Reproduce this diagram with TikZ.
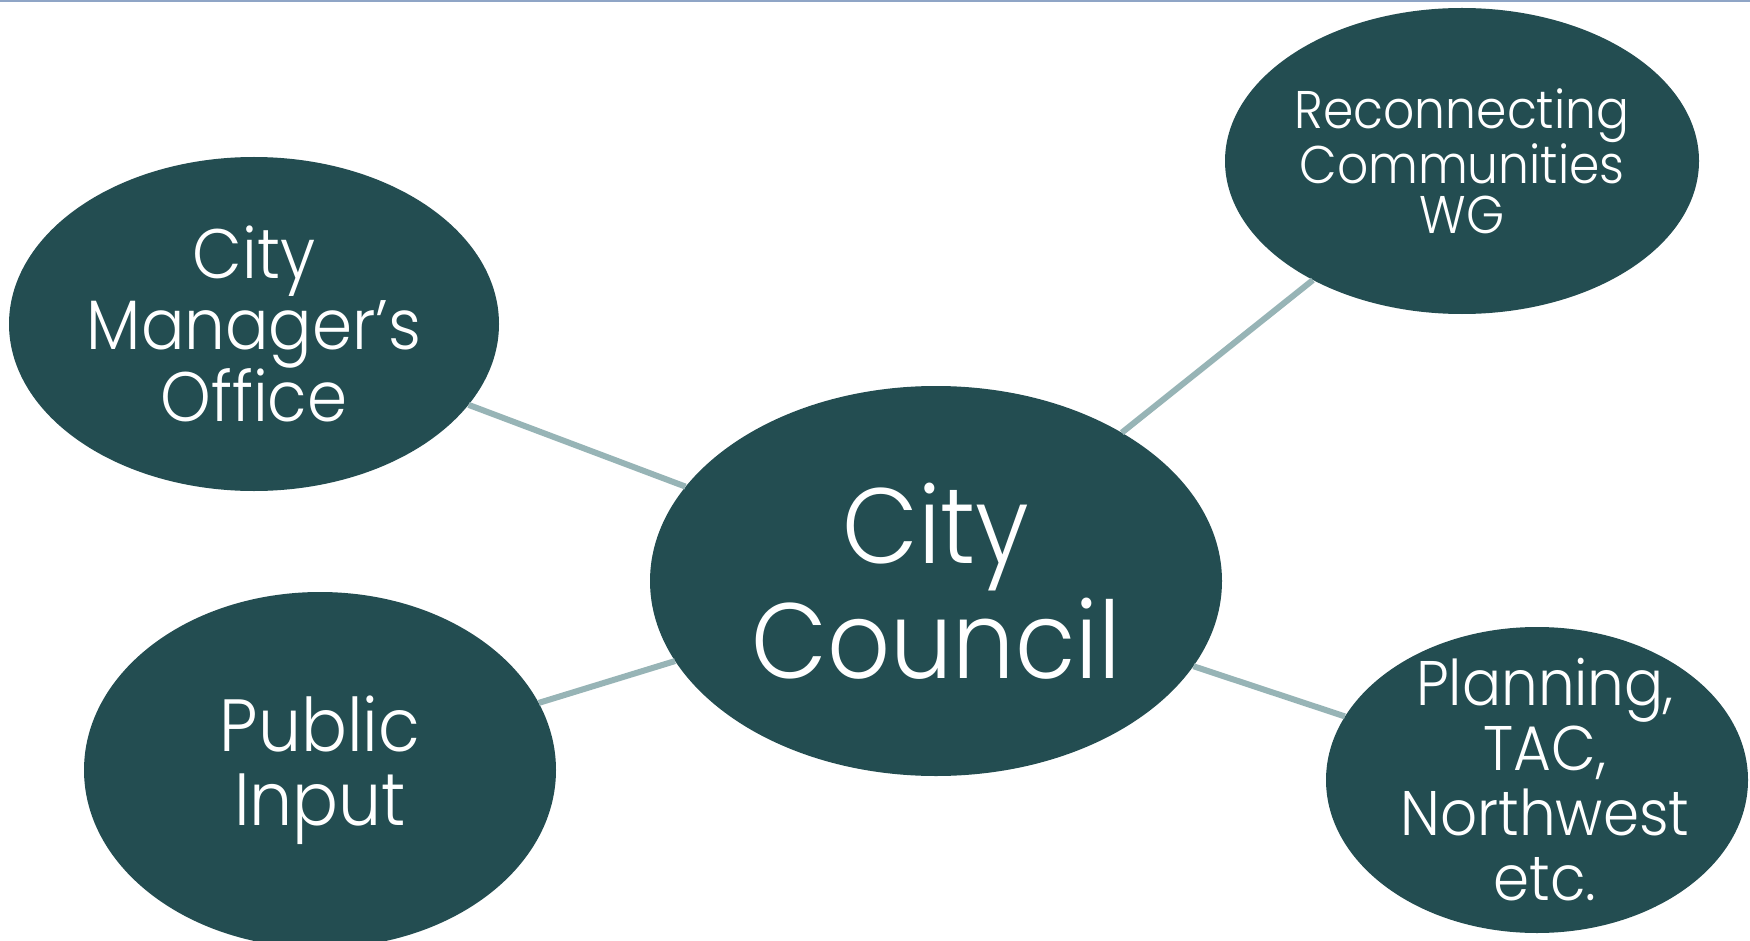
\documentclass[tikz,border=0pt]{standalone}
\usepackage{fontspec}
\setmainfont{Poppins Light}[FakeStretch=0.92]
\usetikzlibrary{shapes.geometric}
\definecolor{bubble}{HTML}{234D51}
\definecolor{link}{HTML}{97B4B6}
\definecolor{topline}{HTML}{8FA5C6}
\tikzset{
  bubble/.style={ellipse, fill=bubble, draw=none, inner sep=0pt},
  btext/.style={text=white, align=center, inner sep=0pt},
  linkline/.style={draw=link, line width=6pt}
}
\begin{document}
\begin{tikzpicture}[x=1pt,y=-1pt]
\useasboundingbox (0,0) rectangle (1750,941);
\fill[white] (0,0) rectangle (1750,941);
\draw[topline, line width=2pt] (0,1) -- (1750,1);
% bubbles
\node[bubble, minimum width=572pt, minimum height=390pt] (cc) at (936,581) {};
\node[bubble, minimum width=490pt, minimum height=334pt] (cmo) at (254,324) {};
\node[bubble, minimum width=472pt, minimum height=356pt] (pi) at (320,770) {};
\node[bubble, minimum width=474pt, minimum height=306pt] (rc) at (1462,161) {};
\node[bubble, minimum width=422pt, minimum height=306pt] (pl) at (1537,780) {};
% texts
\node[btext, font=\fontsize{107}{115}\selectfont] (cct) at (cc.center) {City\\Council};
\node[btext, font=\fontsize{70}{71}\selectfont] (cmot) at (cmo.center) {City\\Manager’s\\Office};
\node[btext, font=\fontsize{74}{74}\selectfont] (pit) at (pi.center) {Public\\Input};
\node[btext, font=\fontsize{53}{50}\selectfont] (rct) at (rc.center) {Reconnecting\\Communities\\WG};
\node[btext, font=\fontsize{63}{65}\selectfont] (plt) at ([xshift=8pt]pl.center) {Planning,\\TAC,\\Northwest\\etc.};
% links
\draw[linkline] (cc) -- (cmo);
\draw[linkline] (cc) -- (pi);
\draw[linkline] (cc) -- (rc);
\draw[linkline] (cc) -- (pl);
\end{tikzpicture}
\end{document}
